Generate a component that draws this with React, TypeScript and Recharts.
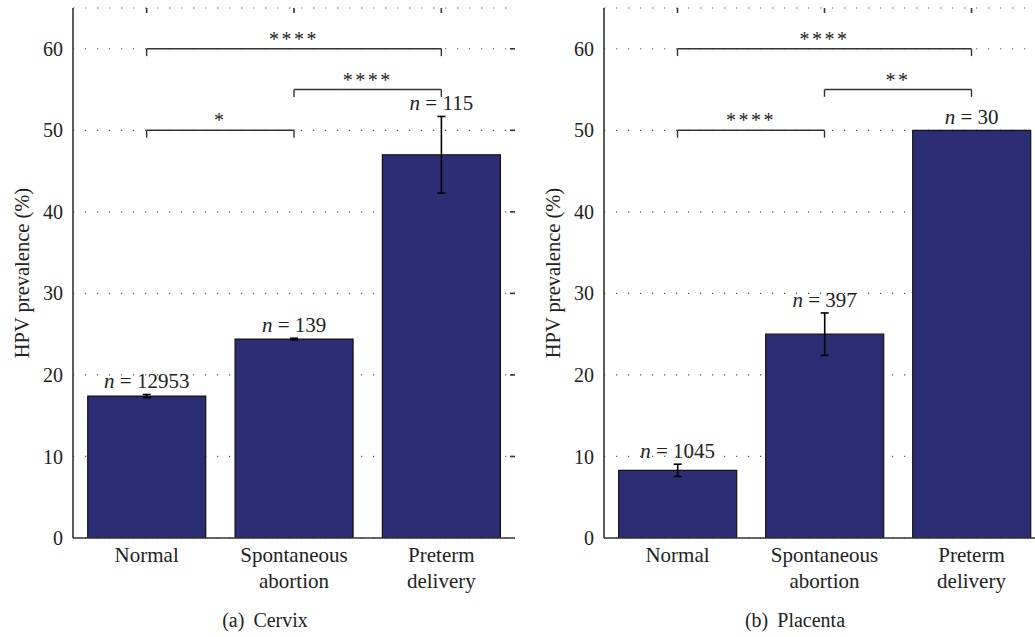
import React from 'react';
import { BarChart, Bar, XAxis, YAxis, CartesianGrid, ErrorBar, ReferenceLine } from 'recharts';

const categories = ['Normal', 'Spontaneous abortion', 'Preterm delivery'];
const cervixValues = [17.4, 24.4, 47.0];
const cervixErrors = [0.2, 0.1, 4.7];
const cervixN = [12953, 139, 115];
const placentaValues = [8.3, 25.0, 50.0];
const placentaErrors = [0.75, 2.6, 0];
const placentaN = [1045, 397, 30];
const yTicks = [0, 10, 20, 30, 40, 50, 60];
const rightTicks = [10, 20, 30, 40, 50, 60];
const cervixBrackets = [
  { from: 0, to: 2, y: 60, label: '****' },
  { from: 1, to: 2, y: 55, label: '****' },
  { from: 0, to: 1, y: 50, label: '*' },
];
const placentaBrackets = [
  { from: 0, to: 2, y: 60, label: '****' },
  { from: 1, to: 2, y: 55, label: '**' },
  { from: 0, to: 1, y: 50, label: '****' },
];
const yAxisTitle = 'HPV prevalence (%)';
const captionTags = ['(a)', '(b)'];
const captionNames = ['Cervix', 'Placenta'];

const FONT = '"Liberation Serif", "Times New Roman", serif';
const INK = '#222';
const FRAME = '#333';
const BAR_FILL = '#2b2d75';
const TICK_LEN = 5;

const CatTick = (props: any) => {
  const { x, y, payload } = props;
  const words = String(payload.value).split(' ');
  return (
    <text x={x} y={y} textAnchor="middle" fontFamily={FONT} fontSize={21} fill={INK}>
      {words.map((w, i) => (
        <tspan key={i} x={x} dy={i === 0 ? 24 : 25.6}>{w}</tspan>
      ))}
    </text>
  );
};

const makeBarLabel = (values: number[], errors: number[], ns: number[]) => (p: any) => {
  const { x, y, width, height, index } = p;
  const v = values[index];
  const e = errors[index];
  const errPx = v ? (e * height) / v : 0;
  const cx = Number(x) + Number(width) / 2;
  return (
    <text x={cx} y={Number(y) - errPx - 6} textAnchor="middle" fontFamily={FONT} fontSize={21} fill={INK}>
      <tspan fontStyle="italic">n</tspan> = {ns[index]}
    </text>
  );
};

const makeStarLabel = (text: string) => (p: any) => {
  const vb = p.viewBox || {};
  return (
    <text
      x={vb.x + vb.width / 2}
      y={vb.y - 3}
      textAnchor="middle"
      fontFamily={FONT}
      fontSize={20}
      letterSpacing={2.5}
      fill={INK}
    >
      {text}
    </text>
  );
};

const topTickShape = (p: any) => {
  const top = Math.min(Number(p.y1), Number(p.y2));
  return <line x1={p.x1} y1={top} x2={p.x1} y2={top + TICK_LEN} stroke={FRAME} strokeWidth={1.6} />;
};

const rightTickShape = (p: any) => {
  const right = Math.max(Number(p.x1), Number(p.x2));
  return <line x1={right - TICK_LEN} y1={p.y1} x2={right} y2={p.y1} stroke={FRAME} strokeWidth={1.6} />;
};

type PanelProps = {
  values: number[];
  errors: number[];
  ns: number[];
  brackets: { from: number; to: number; y: number; label: string }[];
  left: number;
  axisWidth: number;
  width: number;
  titleX: number;
};

const Panel = ({ values, errors, ns, brackets, left, axisWidth, width, titleX }: PanelProps) => {
  const data = categories.map((c, i) => ({ cat: c, value: values[i], err: errors[i] }));
  const height = 600;
  return (
    <div style={{ position: 'absolute', left, top: 0 }}>
      <BarChart
        width={width}
        height={height}
        data={data}
        margin={{ top: 8, right: 15, bottom: 12, left: 0 }}
        barCategoryGap="10%"
      >
        <CartesianGrid
          xAxisId="b"
          yAxisId="l"
          vertical={false}
          stroke="#555"
          strokeWidth={1.2}
          strokeDasharray="1.2 10.8"
        />
        <XAxis
          xAxisId="b"
          dataKey="cat"
          height={50}
          tickLine={false}
          tickSize={0}
          tickMargin={0}
          tick={<CatTick />}
          axisLine={{ stroke: FRAME, strokeWidth: 1.6 }}
          interval={0}
        />
        <XAxis
          xAxisId="t"
          dataKey="cat"
          orientation="top"
          height={0}
          mirror
          tick={false}
          tickLine={false}
          axisLine={{ stroke: FRAME, strokeWidth: 1.3 }}
        />
        <YAxis
          yAxisId="l"
          width={axisWidth}
          domain={[0, 65]}
          ticks={yTicks}
          allowDataOverflow
          tickLine={false}
          tickSize={6}
          tickMargin={4}
          tick={{ fontFamily: FONT, fontSize: 20, fill: INK }}
          axisLine={{ stroke: FRAME, strokeWidth: 1.6 }}
          label={(p: any) => {
            const vb = p.viewBox || {};
            const cy = vb.y + vb.height / 2;
            return (
              <text
                x={titleX}
                y={cy}
                transform={`rotate(-90 ${titleX} ${cy})`}
                textAnchor="middle"
                fontFamily={FONT}
                fontSize={20.5}
                fill={INK}
              >
                {yAxisTitle}
              </text>
            );
          }}
        />
        <YAxis
          yAxisId="r"
          orientation="right"
          width={0}
          mirror
          domain={[0, 65]}
          tick={false}
          tickLine={false}
          axisLine={{ stroke: FRAME, strokeWidth: 1.3 }}
        />
        <Bar
          xAxisId="b"
          yAxisId="l"
          dataKey="value"
          fill={BAR_FILL}
          stroke="#111"
          strokeWidth={1.2}
          isAnimationActive={false}
          label={makeBarLabel(values, errors, ns)}
        >
          <ErrorBar dataKey="err" width={4} stroke="#000" strokeWidth={1.6} direction="y" />
        </Bar>
        {categories.map((c) => (
          <ReferenceLine
            key={`tt-${c}`}
            xAxisId="b"
            yAxisId="l"
            x={c}
            ifOverflow="visible"
            shape={topTickShape}
          />
        ))}
        {rightTicks.map((v) => (
          <ReferenceLine
            key={`rt-${v}`}
            xAxisId="b"
            yAxisId="l"
            y={v}
            ifOverflow="visible"
            shape={rightTickShape}
          />
        ))}
        {brackets.map((b, i) => (
          <ReferenceLine
            key={`h${i}`}
            xAxisId="b"
            yAxisId="l"
            ifOverflow="visible"
            segment={[
              { x: categories[b.from], y: b.y },
              { x: categories[b.to], y: b.y },
            ]}
            stroke={FRAME}
            strokeWidth={1.4}
            label={makeStarLabel(b.label)}
          />
        ))}
        {brackets.map((b, i) => (
          <ReferenceLine
            key={`l${i}`}
            xAxisId="b"
            yAxisId="l"
            ifOverflow="visible"
            segment={[
              { x: categories[b.from], y: b.y },
              { x: categories[b.from], y: b.y - 0.9 },
            ]}
            stroke={FRAME}
            strokeWidth={1.4}
          />
        ))}
        {brackets.map((b, i) => (
          <ReferenceLine
            key={`r${i}`}
            xAxisId="b"
            yAxisId="l"
            ifOverflow="visible"
            segment={[
              { x: categories[b.to], y: b.y },
              { x: categories[b.to], y: b.y - 0.9 },
            ]}
            stroke={FRAME}
            strokeWidth={1.4}
          />
        ))}
      </BarChart>
    </div>
  );
};

export default function App() {
  return (
    <div
      style={{
        position: 'fixed',
        left: 0,
        top: 0,
        width: 1035,
        height: 637,
        overflow: 'hidden',
        background: '#fff',
      }}
    >
      <Panel
        values={cervixValues}
        errors={cervixErrors}
        ns={cervixN}
        brackets={cervixBrackets}
        left={0}
        axisWidth={73}
        width={530}
        titleX={29}
      />
      <Panel
        values={placentaValues}
        errors={placentaErrors}
        ns={placentaN}
        brackets={placentaBrackets}
        left={520}
        axisWidth={84}
        width={540}
        titleX={40}
      />
      <svg width={1035} height={637} style={{ position: 'absolute', left: 0, top: 0, pointerEvents: 'none' }}>
        {[265, 795].map((cx, i) => (
          <text key={i} x={cx} y={627} textAnchor="middle" fontFamily={FONT} fontSize={20} fill={INK}>
            <tspan>{captionTags[i]}</tspan>
            <tspan dx={9}>{captionNames[i]}</tspan>
          </text>
        ))}
      </svg>
    </div>
  );
}
